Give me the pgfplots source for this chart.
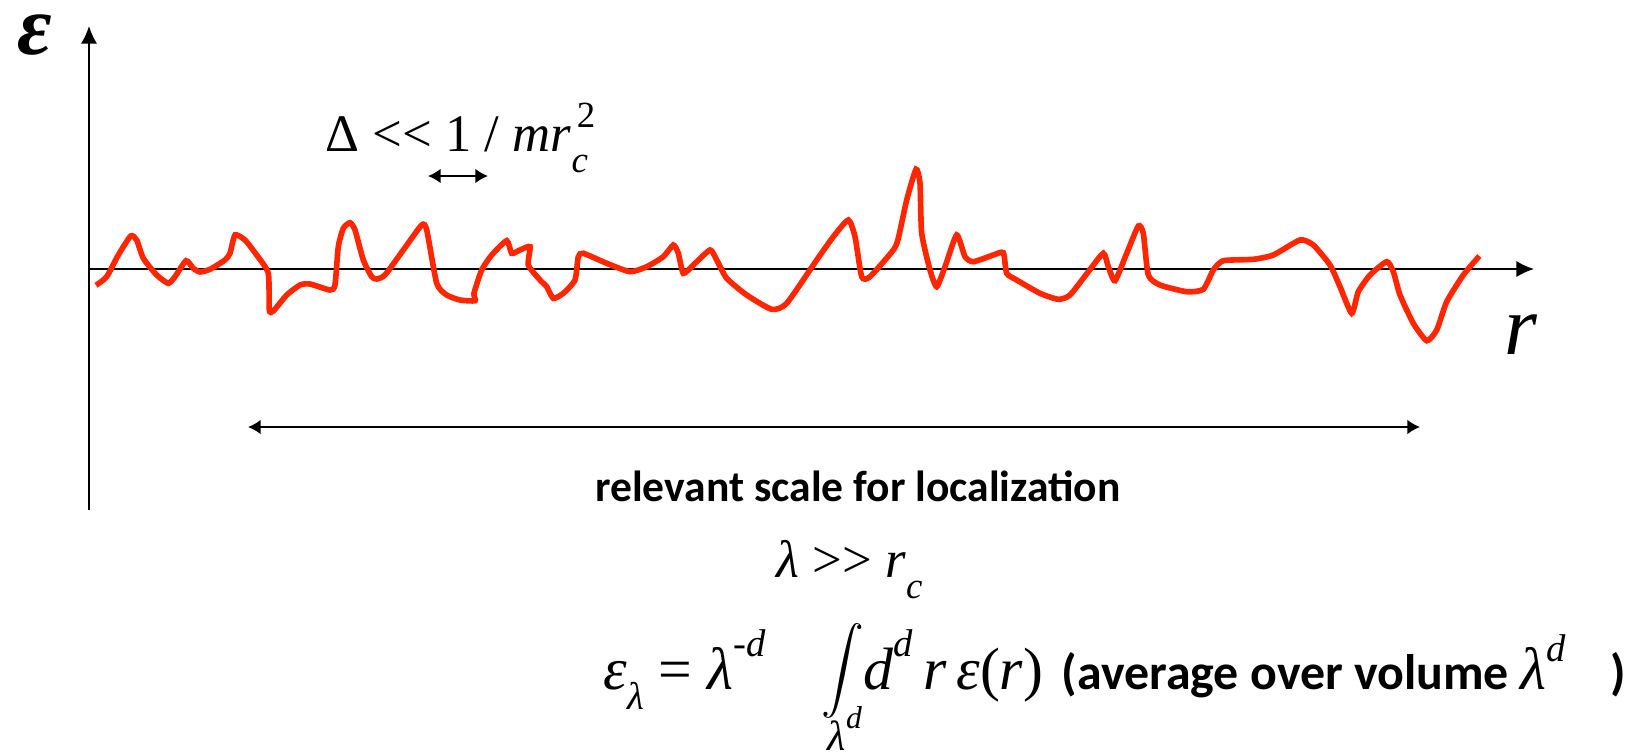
\documentclass[border=0pt]{standalone}
\usepackage{pgfplots}
\pgfplotsset{compat=1.18}
\usetikzlibrary{arrows.meta}
\usepackage{fontspec}
\setmainfont{Liberation Serif}
\newfontfamily\tnr{Liberation Serif}
\newfontfamily\calibri{Carlito}
\definecolor{curvered}{RGB}{255,38,0}

\begin{document}
\begin{tikzpicture}
\begin{axis}[name=ax, scale only axis, width=16.31cm, height=7.55cm,
  xmin=0, xmax=1631, ymin=0, ymax=755, y dir=reverse, hide axis, clip=false]
% axes
\addplot[black, mark=none, line width=0.5pt, -{Latex[length=5pt,width=4.6pt]}] coordinates {(89,510) (89,26)};
\addplot[black, mark=none, line width=0.5pt, -{Latex[length=5pt,width=4.6pt]}] coordinates {(89,269) (1534,269)};
% random potential
\addplot[curvered, mark=none, line width=1.6pt, smooth, tension=0.35] coordinates {
(96,285.3)(106.7,276.7)(118.3,255)(130.7,236)(136.7,240)(143.3,258.3)(156.7,275)(168.3,283.3)(175,276.7)(186,260.7)(193.3,268.3)(200,272)(210,269.3)(225,260)(230,253.3)(235,235)(245,240)(256.7,255)(268.3,273.3)(269.3,310)(273.3,311)(286.7,295)(300,285)(310,284)(330,290)(335,285)(338.3,246.7)(343.3,228.3)(350,222.7)(355,230)(363.3,260)(371.7,276.7)(376.7,279)(385,275)(403.3,250)(421.7,225)(426.7,230)(436.7,283.3)(446.7,295)(460,300)(475,300.7)(474,293.3)(481.7,270)(491.7,255)(506.7,240.7)(511.7,253.3)(520,250)(530,246.7)(528.3,265)(540,280)(546.7,286.7)(553.3,298.3)(563.3,293.3)(575,280)(578.3,256.7)(583.3,253.3)(606.7,263.3)(630,271.7)(646.7,266.7)(663.3,256.7)(673.3,245)(678.3,253.3)(683.3,273.3)(693.3,265)(710,250)(716.7,260)(726.7,278.3)(746.7,295)(771.7,309.3)(786.7,303.3)(816.7,260)(833.3,236.7)(848.3,220)(855,236.7)(861.7,276.7)(870,276.7)(893.3,250)(898.3,238.3)(906.7,200)(916,169.3)(920,183.3)(921.7,233.3)(930,270)(936.7,286.7)(945,266.7)(956.7,235)(965,256.7)(973.3,261.7)(993.3,255)(1003.3,252.7)(1006.7,273.3)(1016.7,280)(1040,293.3)(1058.3,299.3)(1070,295)(1088.3,271.7)(1103.3,253.3)(1108.3,266.7)(1115,280.7)(1126.7,253.3)(1138.3,226)(1143.3,233.3)(1148.3,275)(1160,285)(1186.7,291.7)(1203.3,289.3)(1213.3,270)(1223.3,260.7)(1253.3,259.3)(1273.3,255)(1300,240)(1313.3,245)(1330,265)(1340,286.7)(1351.7,313.3)(1358.3,291.7)(1370,275)(1386.7,261.7)(1393.3,271.7)(1400,295)(1413.3,323.3)(1426.7,340.7)(1436.7,330)(1446.7,301.7)(1463.3,275)(1479.3,256)
};
% double arrows
\addplot[black, mark=none, line width=0.6pt, {Latex[length=3.6pt,width=4.2pt]}-{Latex[length=3.6pt,width=4.2pt]}] coordinates {(428,176) (488,176)};
\addplot[black, mark=none, line width=0.6pt, {Latex[length=3.6pt,width=4.2pt]}-{Latex[length=3.6pt,width=4.2pt]}] coordinates {(248,427) (1420,427)};
% labels
\node[inner sep=0, font=\tnr\fontsize{24}{28}\selectfont\bfseries\itshape] at (axis cs:35,35) {ε};
\node[anchor=base west, inner sep=0, font=\tnr\fontsize{24}{28}\selectfont\itshape] at (axis cs:1504,354) {r};
\node[anchor=base west, inner sep=0] at (axis cs:325,151) {\tnr\fontsize{15}{18}\selectfont Δ <\kern0pt< 1 / \textit{mr}\rlap{\raisebox{-0.4em}{\fontsize{10.5}{12}\selectfont\textit{c}}}\kern0.1em\raisebox{0.45em}{\fontsize{10.5}{12}\selectfont 2}};
\node[inner sep=0, font=\calibri\bfseries\fontsize{12.4}{14}\selectfont] at (axis cs:858,486) {relevant scale for localization};
\node[anchor=base west, inner sep=0] at (axis cs:776,577) {\tnr\fontsize{15}{18}\selectfont\textit{λ} >\kern0pt> \textit{r}\raisebox{-0.4em}{\fontsize{10.5}{12}\selectfont\textit{c}}};
\node[anchor=base west, inner sep=0] at (axis cs:603,689) {\tnr\fontsize{17}{20}\selectfont\textit{ε}\raisebox{-0.35em}{\fontsize{11}{12}\selectfont\textit{λ}} = \textit{λ}\raisebox{0.55em}{\fontsize{11}{12}\selectfont -\textit{d}}};
\node[inner sep=0] at (axis cs:843,671) {\resizebox*{!}{27pt}{$\displaystyle\int$}};
\node[anchor=base, inner sep=0] at (axis cs:845,750) {\tnr\fontsize{12}{14}\selectfont\textit{λ}\raisebox{0.5em}{\fontsize{9}{10}\selectfont\textit{d}}};
\node[anchor=base west, inner sep=0] at (axis cs:863,689) {\tnr\fontsize{17}{20}\selectfont\textit{d}\raisebox{0.55em}{\fontsize{11}{12}\selectfont\textit{d}}\,\textit{r}\,\textit{ε}(\textit{r})};
\node[anchor=base west, inner sep=0] at (axis cs:1061,689) {\calibri\bfseries\fontsize{14.2}{16}\selectfont (average over volume {\tnr\mdseries\itshape\fontsize{17}{20}\selectfont λ}\raisebox{0.55em}{\tnr\mdseries\itshape\fontsize{11}{12}\selectfont d}\hspace{0.9em})};
\end{axis}
\pgfresetboundingbox
\path (ax.south west) rectangle (ax.north east);
\end{tikzpicture}
\end{document}
